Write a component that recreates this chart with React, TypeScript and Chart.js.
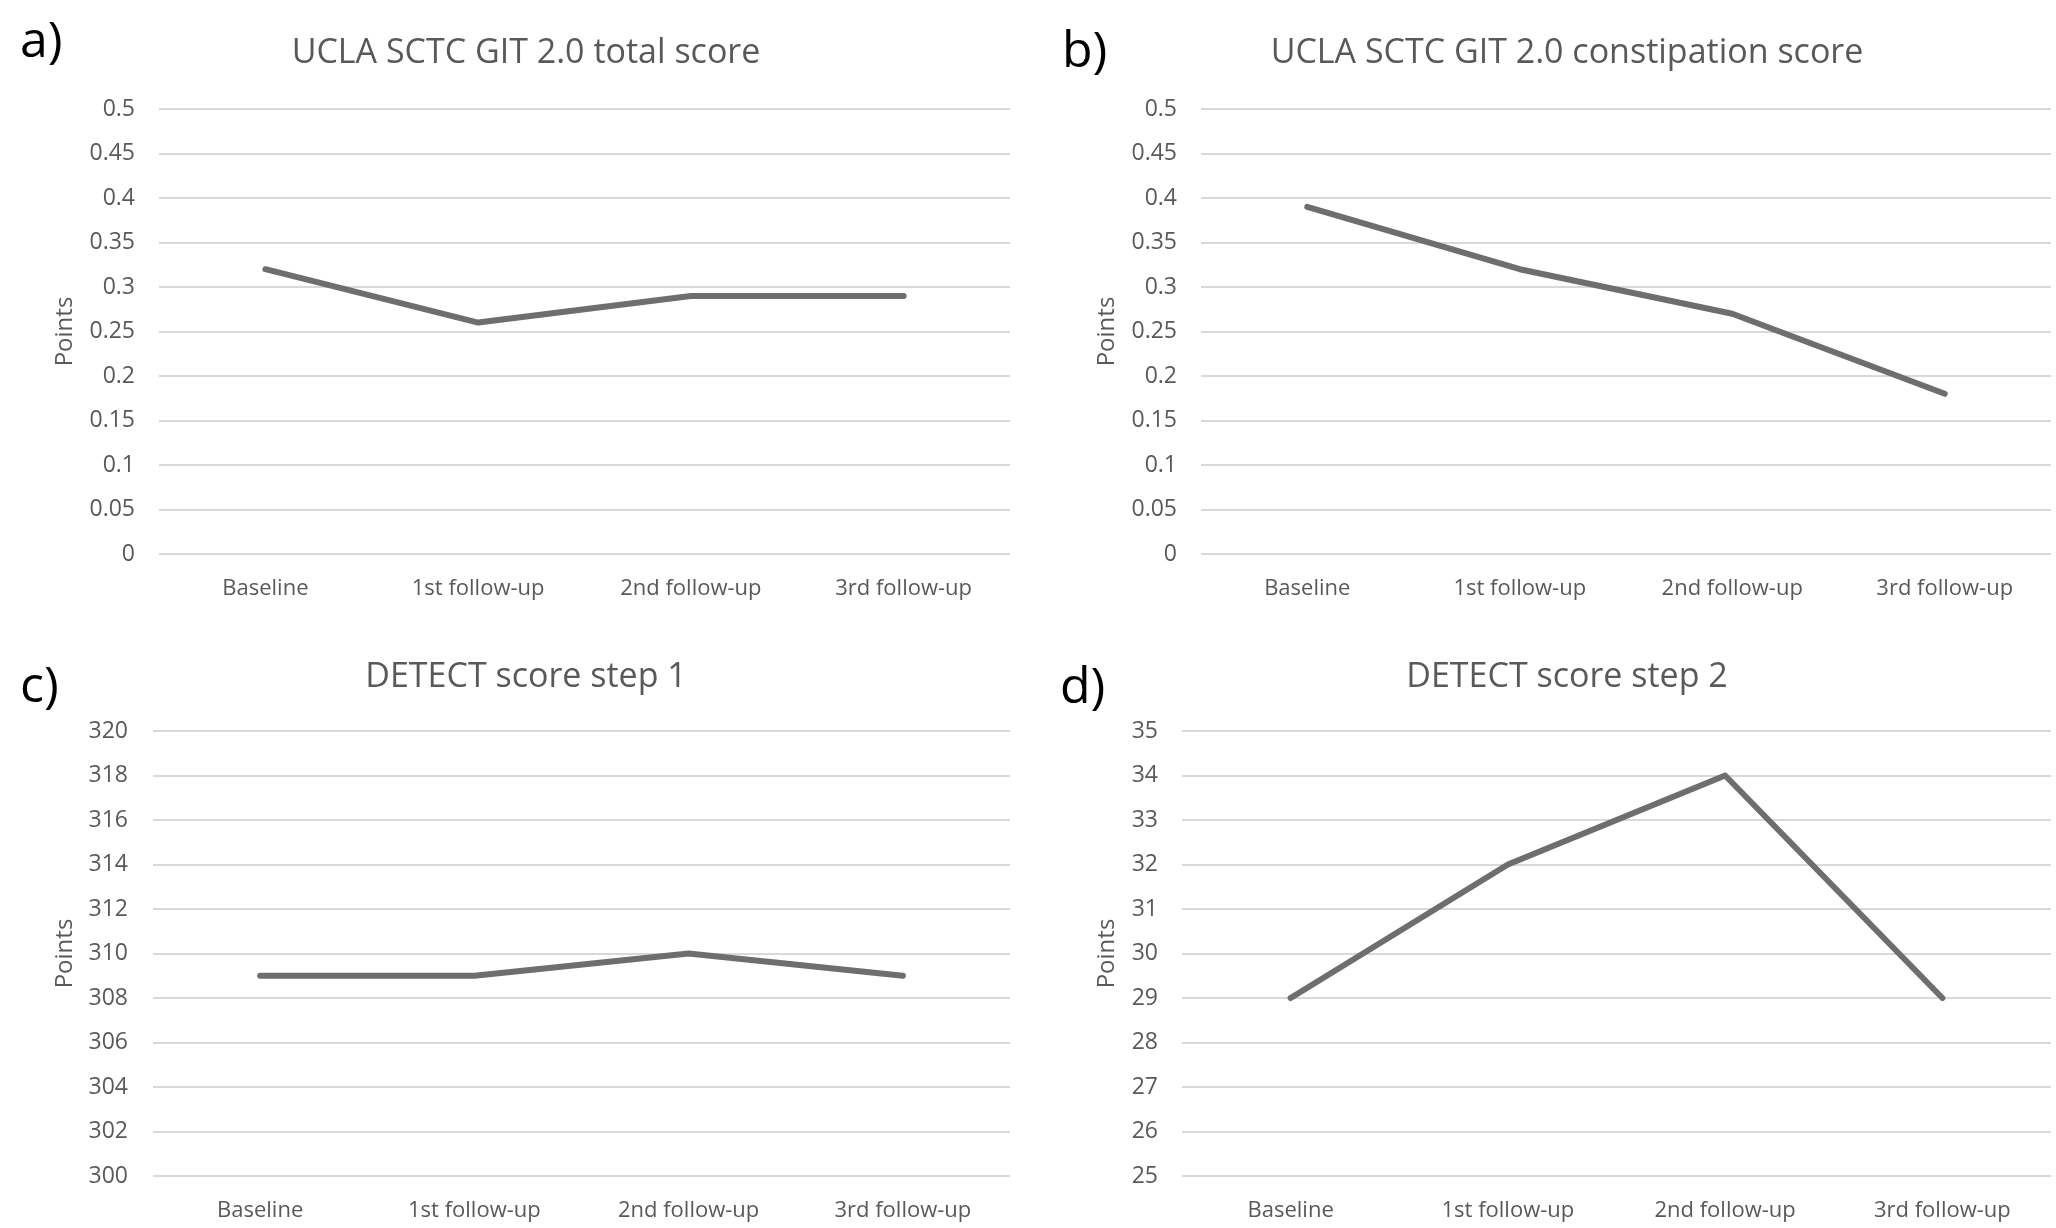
import React, { useEffect, useRef } from "react";
import { Chart, registerables } from "chart.js";

Chart.register(...registerables);

// ---------- data ----------
const categories = ["Baseline", "1st follow-up", "2nd follow-up", "3rd follow-up"];
const totalScore = [0.32, 0.26, 0.29, 0.29];
const constipationScore = [0.39, 0.32, 0.27, 0.18];
const detectStep1 = [309, 309, 310, 309];
const detectStep2 = [29, 32, 34, 29];

const titles = [
  "UCLA SCTC GIT 2.0 total score",
  "UCLA SCTC GIT 2.0 constipation score",
  "DETECT score step 1",
  "DETECT score step 2",
];
const panelLetters = ["a)", "b)", "c)", "d)"];
const yAxisTitle = "Points";

// ---------- layout / style ----------
const FONT = "'Open Sans', 'Noto Sans', sans-serif";
const TEXT_GREY = "#595959";
const GRID_GREY = "#d9d9d9";
const LINE_GREY = "#6e6e6e";
const CW = 1028;
const CH = 614;
const X_AXIS_H = 50;

type PanelCfg = {
  data: number[];
  min: number;
  max: number;
  step: number;
  decimals: number;
  cx: number;
  cy: number;
  area: [number, number, number, number]; // l, t, r, b (page coords)
  letterX: number;
  letterBase: number;
  titleCenter: number;
  titleBase: number;
  pointsX: number;
  tickPad: number;
};

const panels: PanelCfg[] = [
  {
    data: totalScore, min: 0, max: 0.5, step: 0.05, decimals: 2,
    cx: 0, cy: 0, area: [159, 109, 1010, 554],
    letterX: 20, letterBase: 57, titleCenter: 526, titleBase: 63, pointsX: 65, tickPad: 24,
  },
  {
    data: constipationScore, min: 0, max: 0.5, step: 0.05, decimals: 2,
    cx: 1028, cy: 0, area: [1201, 109, 2051, 554],
    letterX: 1062, letterBase: 67, titleCenter: 1567, titleBase: 63, pointsX: 1107, tickPad: 24,
  },
  {
    data: detectStep1, min: 300, max: 320, step: 2, decimals: 0,
    cx: 0, cy: 614, area: [153, 731, 1010, 1176],
    letterX: 20, letterBase: 702, titleCenter: 526, titleBase: 687, pointsX: 65, tickPad: 25,
  },
  {
    data: detectStep2, min: 25, max: 35, step: 1, decimals: 0,
    cx: 1028, cy: 614, area: [1182, 731, 2051, 1176],
    letterX: 1060, letterBase: 703, titleCenter: 1567, titleBase: 687, pointsX: 1107, tickPad: 24,
  },
];

function ChartPanel({ cfg }: { cfg: PanelCfg }) {
  const ref = useRef<HTMLCanvasElement | null>(null);

  useEffect(() => {
    if (!ref.current) return;
    const [l, t, r, b] = cfg.area;
    const yW = l - cfg.cx;
    const padTop = t - cfg.cy;
    const padRight = cfg.cx + CW - r;
    const padBottom = cfg.cy + CH - b - X_AXIS_H;
    const titleFontSize = 24;
    const titleLH = titleFontSize * 1.2;

    const chart = new Chart(ref.current, {
      type: "line",
      data: {
        labels: categories,
        datasets: [
          {
            data: cfg.data,
            borderColor: LINE_GREY,
            borderWidth: 6,
            pointRadius: 0,
            pointHoverRadius: 0,
            tension: 0,
            fill: false,
            borderCapStyle: "round",
            borderJoinStyle: "round",
          },
        ],
      },
      options: {
        animation: false,
        responsive: false,
        maintainAspectRatio: false,
        devicePixelRatio: 1,
        events: [],
        layout: {
          padding: { left: 0, top: padTop, right: padRight, bottom: padBottom },
        },
        plugins: {
          legend: { display: false },
          tooltip: { enabled: false },
          title: { display: false },
        },
        scales: {
          x: {
            type: "category",
            offset: true,
            grid: { display: false, drawTicks: false },
            border: { display: false },
            ticks: {
              color: TEXT_GREY,
              font: { family: FONT, size: 22 },
              padding: 22,
              maxRotation: 0,
              autoSkip: false,
            },
            afterFit: (scale: any) => {
              scale.height = X_AXIS_H;
            },
          },
          y: {
            type: "linear",
            min: cfg.min,
            max: cfg.max,
            grid: { color: GRID_GREY, lineWidth: 2, drawTicks: false },
            border: { display: false },
            ticks: {
              stepSize: cfg.step,
              color: TEXT_GREY,
              font: { family: FONT, size: 23 },
              padding: cfg.tickPad,
              callback: (v: any) => {
                const n = Number(v);
                const p = Math.pow(10, cfg.decimals);
                return String(Math.round(n * p) / p);
              },
            },
            title: {
              display: true,
              text: yAxisTitle,
              color: TEXT_GREY,
              font: { family: FONT, size: titleFontSize },
              padding: { top: cfg.pointsX - cfg.cx - titleLH / 2, bottom: 0 },
            },
            afterFit: (scale: any) => {
              scale.width = yW;
            },
          },
        },
      },
    });
    return () => chart.destroy();
  }, [cfg]);

  return (
    <canvas
      ref={ref}
      width={CW}
      height={CH}
      style={{ position: "absolute", left: cfg.cx, top: cfg.cy, width: CW, height: CH }}
    />
  );
}

export default function App() {
  const letterSize = 50;
  const letterBaseOff = (letterSize - 1.362 * letterSize) / 2 + 1.069 * letterSize;
  const titleSize = 34;
  const titleBaseOff = (titleSize - 1.362 * titleSize) / 2 + 1.069 * titleSize;

  return (
    <div
      style={{
        position: "absolute",
        left: 0,
        top: 0,
        width: 2056,
        height: 1228,
        background: "#ffffff",
        overflow: "hidden",
        fontFamily: FONT,
      }}
    >
      {panels.map((p, i) => (
        <ChartPanel key={i} cfg={p} />
      ))}
      {panels.map((p, i) => (
        <div
          key={"t" + i}
          style={{
            position: "absolute",
            left: p.titleCenter - 500,
            width: 1000,
            top: p.titleBase - titleBaseOff,
            textAlign: "center",
            fontSize: titleSize,
            lineHeight: titleSize + "px",
            color: TEXT_GREY,
            whiteSpace: "nowrap",
          }}
        >
          {titles[i]}
        </div>
      ))}
      {panels.map((p, i) => (
        <div
          key={"l" + i}
          style={{
            position: "absolute",
            left: p.letterX,
            top: p.letterBase - letterBaseOff,
            fontSize: letterSize,
            lineHeight: letterSize + "px",
            color: "#000000",
            whiteSpace: "nowrap",
          }}
        >
          {panelLetters[i]}
        </div>
      ))}
    </div>
  );
}
